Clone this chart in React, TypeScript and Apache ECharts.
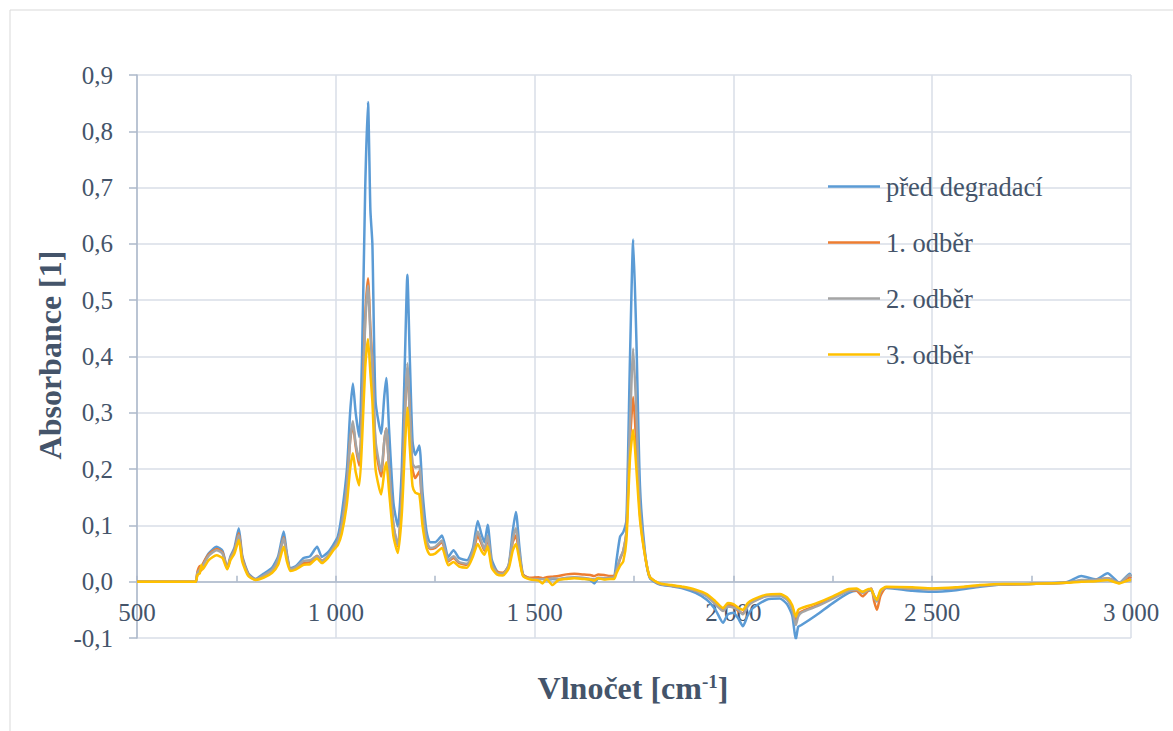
import React, { useEffect, useRef } from "react";
import * as echarts from "echarts";

const wavenumbers = [
  500, 640, 648, 652, 658, 662, 665, 680, 700, 715, 727, 735, 745, 756, 765, 780, 798, 818, 840, 855,
  869, 877, 886, 900, 919, 935, 953, 965, 980, 994, 1005, 1015, 1028, 1036, 1043, 1050, 1059, 1066, 1074, 1081,
  1087, 1092, 1100, 1114, 1122, 1127, 1134, 1145, 1156, 1166, 1174, 1180, 1186, 1193, 1200, 1210, 1218, 1228, 1237, 1250,
  1267, 1283, 1296, 1310, 1330, 1345, 1357, 1366, 1374, 1382, 1392, 1405, 1420, 1435, 1445, 1453, 1462, 1471, 1490, 1510,
  1520, 1530, 1545, 1560, 1580, 1600, 1620, 1640, 1650, 1660, 1675, 1690, 1700, 1706, 1715, 1723, 1731, 1740, 1748, 1756,
  1765, 1778, 1790, 1815, 1845, 1874, 1905, 1933, 1955, 1974, 1986, 2000, 2012, 2024, 2036, 2049, 2083, 2117, 2135, 2148,
  2157, 2163, 2171, 2209, 2250, 2290, 2310, 2325, 2340, 2347, 2354, 2361, 2370, 2385, 2450, 2500, 2560, 2620, 2680, 2745,
  2837, 2875, 2912, 2941, 2971, 2997, 3000,
];

const predDegradaci = [
  0, 0, 0, 0.015, 0.02, 0.028, 0.03, 0.05, 0.062, 0.055, 0.024, 0.045, 0.06, 0.095, 0.045, 0.015, 0.005, 0.014, 0.025, 0.045,
  0.089, 0.05, 0.024, 0.028, 0.042, 0.045, 0.062, 0.044, 0.052, 0.066, 0.08, 0.12, 0.2, 0.3, 0.352, 0.3, 0.257, 0.4, 0.7, 0.852,
  0.66, 0.6, 0.32, 0.263, 0.33, 0.362, 0.27, 0.14, 0.098, 0.2, 0.4, 0.545, 0.4, 0.25, 0.225, 0.242, 0.16, 0.09, 0.07, 0.07,
  0.082, 0.044, 0.056, 0.042, 0.038, 0.06, 0.108, 0.085, 0.07, 0.101, 0.04, 0.019, 0.013, 0.03, 0.09, 0.124, 0.06, 0.013, 0.005, 0.004,
  0.006, 0.003, 0.005, 0.004, 0.006, 0.007, 0.006, 0.003, -0.003, 0.006, 0.005, 0.006, 0.008, 0.038, 0.08, 0.088, 0.11, 0.4, 0.608, 0.43,
  0.17, 0.05, 0.006, -0.005, -0.008, -0.012, -0.02, -0.032, -0.05, -0.073, -0.058, -0.055, -0.065, -0.079, -0.06, -0.047, -0.032, -0.03, -0.04, -0.06,
  -0.103, -0.08, -0.077, -0.059, -0.038, -0.02, -0.016, -0.018, -0.016, -0.015, -0.025, -0.032, -0.018, -0.011, -0.016, -0.018, -0.015, -0.009, -0.005, -0.004,
  -0.001, 0.01, 0.004, 0.015, -0.002, 0.014, 0.01,
];

const odber1 = [
  0, 0, 0, 0.018, 0.028, 0.02, 0.03, 0.048, 0.058, 0.052, 0.024, 0.042, 0.056, 0.086, 0.042, 0.013, 0.004, 0.01, 0.02, 0.038,
  0.079, 0.045, 0.022, 0.025, 0.033, 0.035, 0.046, 0.037, 0.045, 0.06, 0.072, 0.1, 0.17, 0.25, 0.279, 0.24, 0.206, 0.3, 0.47, 0.539,
  0.45, 0.39, 0.24, 0.187, 0.25, 0.272, 0.2, 0.1, 0.063, 0.15, 0.3, 0.38, 0.3, 0.2, 0.184, 0.196, 0.12, 0.07, 0.058, 0.06,
  0.07, 0.036, 0.042, 0.033, 0.03, 0.05, 0.082, 0.068, 0.055, 0.078, 0.03, 0.018, 0.016, 0.028, 0.07, 0.082, 0.045, 0.012, 0.007, 0.008,
  0.006, 0.008, 0.009, 0.01, 0.013, 0.014, 0.013, 0.012, 0.01, 0.013, 0.012, 0.01, 0.01, 0.02, 0.04, 0.055, 0.09, 0.25, 0.328, 0.24,
  0.12, 0.045, 0.008, -0.004, -0.007, -0.01, -0.016, -0.025, -0.04, -0.05, -0.042, -0.044, -0.052, -0.056, -0.042, -0.035, -0.025, -0.024, -0.03, -0.045,
  -0.068, -0.058, -0.053, -0.042, -0.028, -0.015, -0.016, -0.026, -0.015, -0.012, -0.035, -0.05, -0.025, -0.01, -0.012, -0.013, -0.011, -0.007, -0.005, -0.004,
  -0.002, 0.002, 0.003, 0.006, -0.002, 0.008, 0.006,
];

const odber2 = [
  0, 0, 0, 0.015, 0.022, 0.026, 0.028, 0.046, 0.056, 0.05, 0.023, 0.042, 0.055, 0.083, 0.04, 0.012, 0.004, 0.011, 0.021, 0.04,
  0.077, 0.045, 0.022, 0.026, 0.037, 0.038, 0.045, 0.036, 0.046, 0.06, 0.072, 0.1, 0.17, 0.25, 0.285, 0.245, 0.215, 0.3, 0.46, 0.526,
  0.44, 0.38, 0.25, 0.196, 0.25, 0.272, 0.2, 0.1, 0.065, 0.15, 0.3, 0.388, 0.3, 0.21, 0.203, 0.205, 0.13, 0.075, 0.06, 0.062,
  0.073, 0.038, 0.045, 0.035, 0.032, 0.055, 0.089, 0.072, 0.058, 0.082, 0.032, 0.016, 0.014, 0.03, 0.075, 0.095, 0.05, 0.011, 0.005, 0.004,
  0.005, 0.004, 0.006, 0.005, 0.007, 0.008, 0.007, 0.005, 0.004, 0.007, 0.006, 0.007, 0.008, 0.02, 0.042, 0.055, 0.09, 0.28, 0.414, 0.3,
  0.13, 0.048, 0.008, -0.004, -0.007, -0.01, -0.016, -0.026, -0.04, -0.052, -0.044, -0.046, -0.05, -0.058, -0.044, -0.036, -0.026, -0.025, -0.032, -0.05,
  -0.077, -0.062, -0.055, -0.044, -0.03, -0.016, -0.014, -0.02, -0.014, -0.013, -0.028, -0.035, -0.018, -0.01, -0.012, -0.013, -0.011, -0.007, -0.005, -0.004,
  -0.002, 0.003, 0.003, 0.006, -0.002, 0.012, 0.009,
];

const odber3 = [
  0, 0, 0, 0.012, 0.015, 0.03, 0.022, 0.038, 0.047, 0.042, 0.022, 0.038, 0.05, 0.074, 0.035, 0.01, 0.003, 0.007, 0.016, 0.03,
  0.062, 0.036, 0.019, 0.022, 0.03, 0.031, 0.041, 0.033, 0.042, 0.056, 0.065, 0.085, 0.139, 0.2, 0.228, 0.195, 0.171, 0.25, 0.38, 0.431,
  0.37, 0.32, 0.2, 0.155, 0.195, 0.212, 0.16, 0.08, 0.051, 0.12, 0.24, 0.309, 0.24, 0.17, 0.158, 0.155, 0.1, 0.06, 0.048, 0.05,
  0.06, 0.029, 0.035, 0.027, 0.025, 0.045, 0.067, 0.055, 0.048, 0.063, 0.025, 0.013, 0.011, 0.024, 0.055, 0.067, 0.038, 0.01, 0.004, 0.002,
  -0.003, 0.005, -0.006, 0.003, 0.005, 0.006, 0.005, 0.004, 0.002, 0.006, 0.004, 0.005, 0.005, 0.015, 0.028, 0.036, 0.074, 0.22, 0.27, 0.2,
  0.11, 0.045, 0.008, -0.003, -0.006, -0.009, -0.014, -0.022, -0.035, -0.047, -0.038, -0.04, -0.046, -0.05, -0.038, -0.032, -0.023, -0.022, -0.028, -0.042,
  -0.062, -0.05, -0.047, -0.038, -0.026, -0.013, -0.012, -0.018, -0.013, -0.014, -0.025, -0.032, -0.015, -0.009, -0.01, -0.012, -0.01, -0.006, -0.004, -0.004,
  -0.002, 0, 0.001, 0.003, -0.003, 0.003, 0.002,
];

const seriesNames = ["před degradací", "1. odběr", "2. odběr", "3. odběr"];
const seriesColors = ["#5B9BD5", "#ED7D31", "#A5A5A5", "#FFC000"];
const seriesValues = [predDegradaci, odber1, odber2, odber3];

const textColor = "#44546A";
const font = "Liberation Serif";

function fmtX(v: number): string {
  const s = String(Math.round(v));
  return s.replace(/\B(?=(\d{3})+(?!\d))/g, " ");
}
function fmtY(v: number): string {
  return (Math.round(v * 10) / 10).toFixed(1).replace(".", ",");
}

export default function App() {
  const ref = useRef<HTMLDivElement>(null);
  useEffect(() => {
    if (!ref.current) return;
    const chart = echarts.init(ref.current, undefined, { renderer: "svg" });
    const option: any = {
      animation: false,
      backgroundColor: "#ffffff",
      textStyle: { fontFamily: font },
      grid: { left: 137, right: 42, top: 75, bottom: 93, containLabel: false },
      legend: {
        orient: "vertical",
        left: 828,
        top: 173,
        padding: 0,
        icon: "rect",
        itemWidth: 52,
        itemHeight: 2.5,
        itemGap: 29,
        data: seriesNames,
        textStyle: { fontFamily: font, fontSize: 26.5, color: textColor, padding: [0, 0, 0, 1] },
      },
      xAxis: [
        {
          type: "value",
          min: 500,
          max: 3000,
          interval: 500,
          axisLine: { show: true, onZero: true, lineStyle: { color: "#ADB9CA", width: 1.5 } },
          axisTick: { show: true, inside: true, length: 6, lineStyle: { color: "#ADB9CA", width: 1.5 } },
          minorTick: { show: true, splitNumber: 2, length: 6, lineStyle: { color: "#ADB9CA", width: 1.5 } },
          splitLine: { show: true, lineStyle: { color: "#D9DEE7", width: 1.5 } },
          axisLabel: {
            margin: -38,
            fontFamily: font,
            fontSize: 25,
            color: textColor,
            formatter: (v: number) => fmtX(v),
          },
        },
      ],
      yAxis: {
        type: "value",
        min: -0.1,
        max: 0.9,
        interval: 0.1,
        axisLine: { show: true, lineStyle: { color: "#ADB9CA", width: 1.5 } },
        axisTick: { show: true, length: 8, lineStyle: { color: "#ADB9CA", width: 1.5 } },
        splitLine: { show: true, lineStyle: { color: "#D9DEE7", width: 1.5 } },
        axisLabel: {
          margin: 24,
          fontFamily: font,
          fontSize: 25,
          color: textColor,
          formatter: (v: number) => fmtY(v),
        },
      },
      series: seriesNames.map((name, i) => ({
        name,
        type: "line",
        symbol: "none",
        showSymbol: false,
        smooth: 0.2,
        color: seriesColors[i],
        lineStyle: { color: seriesColors[i], width: 2.5 },
        data: wavenumbers.map((x, j) => [x, seriesValues[i][j]]),
        z: 2 + i,
      })),
      graphic: [
        {
          type: "rect",
          shape: { x: 10, y: 10, width: 1190, height: 740 },
          style: { fill: "none", stroke: "#D9D9D9", lineWidth: 1 },
          silent: true,
          z: -10,
        },
        {
          type: "text",
          x: 50,
          y: 355,
          rotation: Math.PI / 2,
          style: {
            text: "Absorbance [1]",
            fontFamily: font,
            fontWeight: "bold",
            fontSize: 32,
            fill: textColor,
            align: "center",
            verticalAlign: "middle",
          },
        },
        {
          type: "text",
          x: 633,
          y: 688,
          style: {
            text: "{a|Vlnočet [cm}{s|-1}{a|]}",
            align: "center",
            verticalAlign: "middle",
            rich: {
              a: { fontFamily: font, fontWeight: "bold", fontSize: 32, fill: textColor },
              s: { fontFamily: font, fontWeight: "bold", fontSize: 19, fill: textColor, verticalAlign: "top" },
            },
          },
        },
      ],
    };
    chart.setOption(option);
    return () => chart.dispose();
  }, []);
  return (
    <div
      ref={ref}
      style={{ position: "fixed", left: 0, top: 0, width: 1173, height: 731, background: "#fff" }}
    />
  );
}
